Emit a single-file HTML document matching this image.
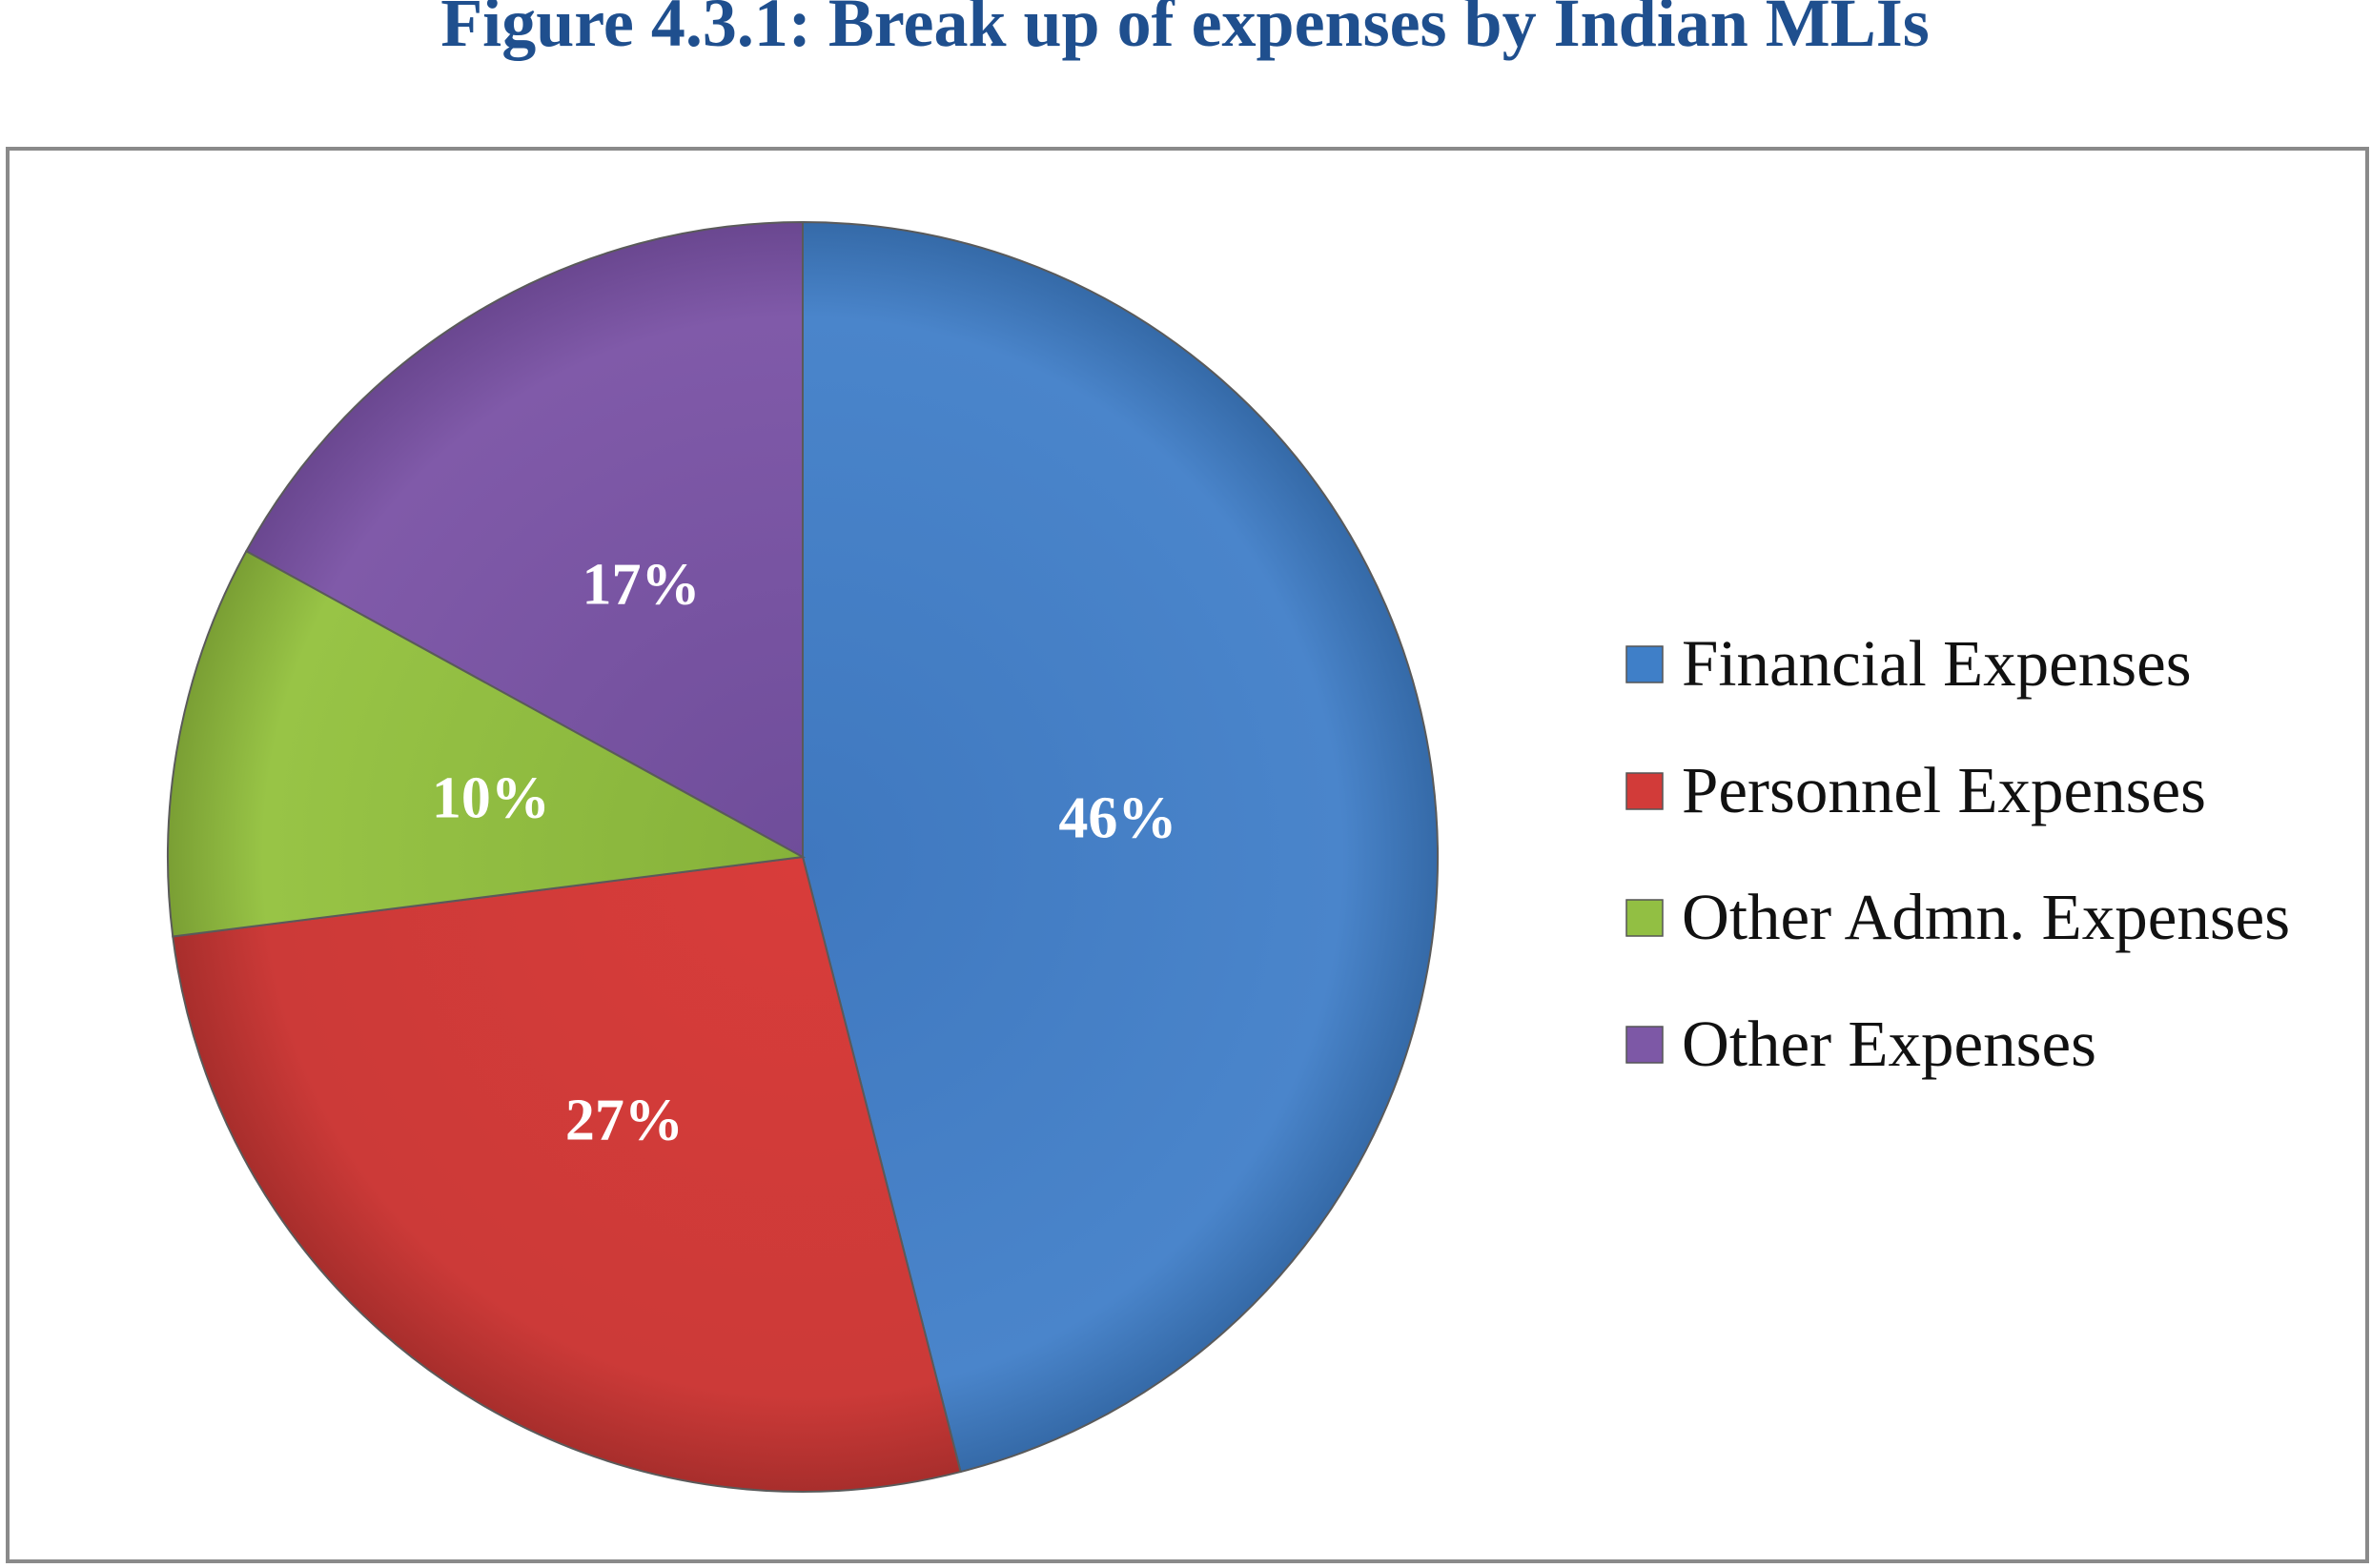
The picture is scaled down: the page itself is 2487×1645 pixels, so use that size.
<!DOCTYPE html>
<html><head><meta charset="utf-8"><style>
html,body{margin:0;padding:0;background:#fff;}
svg{display:block;}
</style></head><body>
<svg id="chart" width="2487" height="1645" viewBox="0 0 2487 1645" xmlns="http://www.w3.org/2000/svg">
<defs>
<radialGradient id="g0" cx="842" cy="899" r="666" gradientUnits="userSpaceOnUse"><stop offset="0" stop-color="#3f78bf"/><stop offset="0.85" stop-color="#4a85cb"/><stop offset="1" stop-color="#356aa8"/></radialGradient>
<radialGradient id="g1" cx="842" cy="899" r="666" gradientUnits="userSpaceOnUse"><stop offset="0" stop-color="#d83c3a"/><stop offset="0.85" stop-color="#cc3a38"/><stop offset="1" stop-color="#a82e2c"/></radialGradient>
<radialGradient id="g2" cx="842" cy="899" r="666" gradientUnits="userSpaceOnUse"><stop offset="0" stop-color="#86b23a"/><stop offset="0.85" stop-color="#98c446"/><stop offset="1" stop-color="#7a9f34"/></radialGradient>
<radialGradient id="g3" cx="842" cy="899" r="666" gradientUnits="userSpaceOnUse"><stop offset="0" stop-color="#6f4d9a"/><stop offset="0.85" stop-color="#805aa9"/><stop offset="1" stop-color="#6a4790"/></radialGradient>
</defs>
<text x="1243" y="48" text-anchor="middle" font-family="Liberation Serif, serif" font-weight="bold" font-size="72" fill="#1f4f8e">Figure 4.3.1: Break up of expenses by Indian MLIs</text>
<rect x="8" y="156" width="2475" height="1482" fill="none" stroke="#8a8a8a" stroke-width="4"/>
<g id="slices"></g>
<g id="labels"></g>
<g id="legend"></g>
</svg>
<script>
const categories = ["Financial Expenses","Personnel Expenses","Other Admn. Expenses","Other Expenses"];
const values = [46, 27, 10, 17];
const valueLabels = ["46%","27%","10%","17%"];
const fills = ["url(#g0)","url(#g1)","url(#g2)","url(#g3)"];
const legendColors = ["#3f7fc8","#d23b39","#92bf43","#7d58a6"];
const NS="http://www.w3.org/2000/svg";
const cx=842, cy=899, R=666;
const total=values.reduce((a,b)=>a+b,0);
function pt(frac,r){const a=frac*2*Math.PI;return [cx+r*Math.sin(a), cy-r*Math.cos(a)];}
const gS=document.getElementById('slices'), gL=document.getElementById('labels'), gG=document.getElementById('legend');
let acc=0;
values.forEach((v,i)=>{
  const f0=acc/total, f1=(acc+v)/total; acc+=v;
  const [x0,y0]=pt(f0,R),[x1,y1]=pt(f1,R);
  const large=(f1-f0)>0.5?1:0;
  const p=document.createElementNS(NS,'path');
  p.setAttribute('d',`M${cx},${cy} L${x0},${y0} A${R},${R} 0 ${large} 1 ${x1},${y1} Z`);
  p.setAttribute('fill',fills[i]);p.setAttribute('stroke','#5a5a5a');p.setAttribute('stroke-width','2');
  
  
  gS.appendChild(p);
  const [lx,ly]=pt((f0+f1)/2,R*0.5);
  const t=document.createElementNS(NS,'text');
  t.setAttribute('x',lx);t.setAttribute('y',ly+21);t.setAttribute('text-anchor','middle');
  t.setAttribute('font-family','Liberation Serif, serif');t.setAttribute('font-weight','bold');t.setAttribute('font-size','62');t.setAttribute('fill','#fff');
  t.textContent=valueLabels[i];
  
  
  gL.appendChild(t);
  const y=697+i*133;
  const r=document.createElementNS(NS,'rect');
  r.setAttribute('x',1706);r.setAttribute('y',y-19);r.setAttribute('width',38);r.setAttribute('height',38);
  r.setAttribute('fill',legendColors[i]);r.setAttribute('stroke','#555');r.setAttribute('stroke-width','1.5');
  
  
  gG.appendChild(r);
  const lt=document.createElementNS(NS,'text');
  lt.setAttribute('x',1764);lt.setAttribute('y',y+22);
  lt.setAttribute('font-family','Liberation Serif, serif');lt.setAttribute('font-size','69');lt.setAttribute('fill','#111');
  lt.textContent=categories[i];
  
  
  gG.appendChild(lt);
});
</script>
</body></html>
